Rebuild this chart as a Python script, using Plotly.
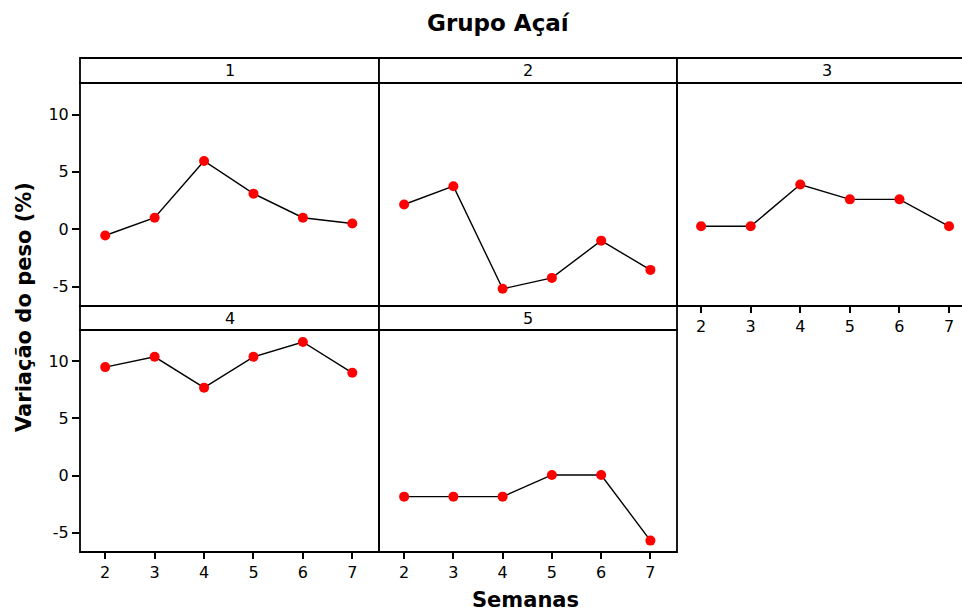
import plotly.graph_objects as go

semanas = [2, 3, 4, 5, 6, 7]
painel_1 = [-0.55, 1.0, 5.95, 3.1, 1.0, 0.5]
painel_2 = [2.15, 3.75, -5.2, -4.25, -1.0, -3.55]
painel_3 = [0.25, 0.25, 3.9, 2.6, 2.6, 0.25]
painel_4 = [9.5, 10.4, 7.7, 10.4, 11.7, 9.0]
painel_5 = [-1.85, -1.85, -1.85, 0.05, 0.05, -5.7]
paineis = ["1", "2", "3", "4", "5"]
series = [painel_1, painel_2, painel_3, painel_4, painel_5]
y_ticks = [-5, 0, 5, 10]
y_tick_text = ["-5", "0", "5", "10"]

W, H = 962, 613
ML, MR, MT, MB = 80, 0, 58, 61
PW = W - ML - MR
PH = H - MT - MB

def fx(px):
    return (px - ML) / PW

def fy(py):
    return (H - MB - py) / PH

# panel pixel geometry
cols = [(80, 379), (379, 677), (677, 977)]
rows = [(58, 83, 306), (306, 330, 552)]
layout_pos = [(0, 0), (0, 1), (0, 2), (1, 0), (1, 1)]

FONT = "DejaVu Sans"
fig = go.Figure()
shapes = []
annotations = []
yr = [-6.7, 12.75]

for i, (name, vals) in enumerate(zip(paineis, series)):
    r, c = layout_pos[i]
    x0, x1 = cols[c]
    st, pt, pb = rows[r]
    ax = "" if i == 0 else str(i + 1)
    xa = "xaxis" + ax
    ya = "yaxis" + ax
    fig.add_trace(go.Scatter(
        x=semanas, y=vals, mode="lines+markers",
        line=dict(color="black", width=1.4),
        marker=dict(color="#ff0000", size=10),
        xaxis="x" + ax, yaxis="y" + ax, showlegend=False,
        cliponaxis=False,
    ))
    dom_x1 = min(fx(x1), 1.0)
    show_x = i in (2, 3, 4)
    show_y = c == 0
    if c == 2:
        xrange = [1.515, 1.515 + (dom_x1 - fx(x0)) * PW / 49.6]
    else:
        xrange = [1.49, 7.54]
    fig.layout[xa] = dict(
        domain=[fx(x0), dom_x1], range=xrange, anchor="y" + ax,
        showgrid=False, zeroline=False, showline=False,
        tickvals=semanas if show_x else [], ticktext=[str(s) for s in semanas] if show_x else [],
        ticks="outside" if show_x else "", ticklen=6, tickcolor="black", tickwidth=1.5,
        tickfont=dict(family=FONT, size=16, color="black"),
        showticklabels=show_x, fixedrange=True,
    )
    fig.layout[ya] = dict(
        domain=[fy(pb), fy(pt)], range=yr, anchor="x" + ax,
        showgrid=False, zeroline=False, showline=False,
        tickvals=y_ticks if show_y else [], ticktext=y_tick_text if show_y else [],
        ticks="outside" if show_y else "", ticklen=7, tickcolor="black", tickwidth=1.5,
        tickfont=dict(family=FONT, size=16, color="black"),
        showticklabels=show_y, fixedrange=True,
    )
    shapes.append(dict(type="rect", xref="paper", yref="paper",
                       x0=fx(x0), x1=fx(x1), y0=fy(pb), y1=fy(pt),
                       line=dict(color="black", width=1.8), layer="above"))
    shapes.append(dict(type="rect", xref="paper", yref="paper",
                       x0=fx(x0), x1=fx(x1), y0=fy(pt), y1=fy(st),
                       line=dict(color="black", width=1.8), fillcolor="white", layer="above"))
    annotations.append(dict(text=name, xref="paper", yref="paper",
                            x=fx((x0 + x1) / 2),
                            y=(fy(pt) + fy(st)) / 2, showarrow=False,
                            xanchor="center", yanchor="middle",
                            font=dict(family=FONT, size=16, color="black")))

annotations.append(dict(text="<b>Grupo Açaí</b>", xref="paper", yref="paper",
                        x=fx(498), y=fy(23), showarrow=False, xanchor="center", yanchor="middle",
                        font=dict(family=FONT, size=23, color="black")))
annotations.append(dict(text="<b>Variação do peso (%)</b>", xref="paper", yref="paper",
                        x=fx(24), y=fy(307), showarrow=False, xanchor="center", yanchor="middle",
                        textangle=-90, font=dict(family=FONT, size=21, color="black")))
annotations.append(dict(text="<b>Semanas</b>", xref="paper", yref="paper",
                        x=fx(525), y=fy(600), showarrow=False, xanchor="center", yanchor="middle",
                        font=dict(family=FONT, size=21, color="black")))

fig.update_layout(
    width=W, height=H,
    margin=dict(l=ML, r=MR, t=MT, b=MB, pad=0),
    paper_bgcolor="white", plot_bgcolor="white",
    shapes=shapes, annotations=annotations,
    showlegend=False,
)
fig.write_html("out.html")
